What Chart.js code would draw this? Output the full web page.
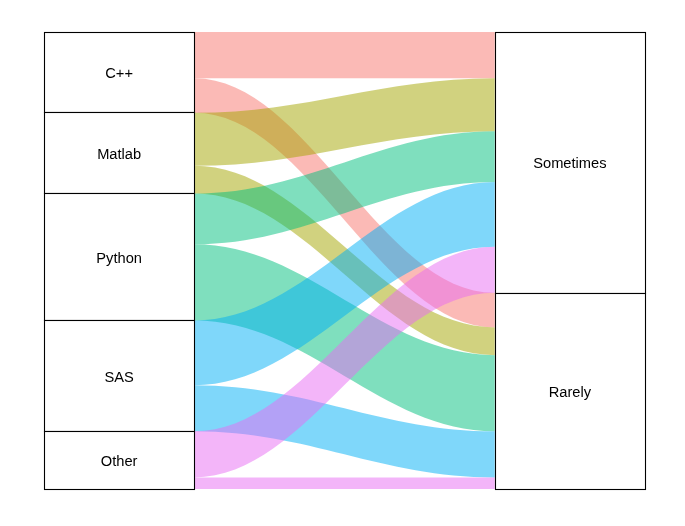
<!DOCTYPE html>
<html>
<head>
<meta charset="utf-8">
<script src="https://cdn.jsdelivr.net/npm/chart.js@4.4.1/dist/chart.umd.min.js"></script>
<style>
html,body{margin:0;padding:0;background:#fff;}
#wrap{width:685px;height:526px;position:relative;}
</style>
</head>
<body>
<div id="wrap"><canvas id="c"></canvas></div>
<script>
// ---- data ----
const languages = ['C++', 'Matlab', 'Python', 'SAS', 'Other'];
const frequencies = ['Sometimes', 'Rarely'];
const sometimesCounts = [20, 23, 22, 28, 20];
const rarelyCounts = [15, 12, 33, 20, 5];
const languageColors = ['#F8766D', '#A3A500', '#00BF7D', '#00B0F6', '#E76BF3'];

const countsByFreq = [sometimesCounts, rarelyCounts];
const total = sometimesCounts.reduce((a, b) => a + b, 0) + rarelyCounts.reduce((a, b) => a + b, 0);
const axisPos = [1, 2];
const stratumWidth = 1 / 3;

function hexToRgba(hex, a) {
  const n = parseInt(hex.slice(1), 16);
  return `rgba(${(n >> 16) & 255},${(n >> 8) & 255},${n & 255},${a})`;
}

// build flow lodes
function buildFlows() {
  const flows = [];
  let cum = 0;
  const leftStart = {};
  languages.forEach((lang, i) => {
    frequencies.forEach((f, j) => {
      leftStart[i + '_' + j] = cum;
      cum += countsByFreq[j][i];
    });
  });
  cum = 0;
  const rightStart = {};
  frequencies.forEach((f, j) => {
    languages.forEach((lang, i) => {
      rightStart[i + '_' + j] = cum;
      cum += countsByFreq[j][i];
    });
  });
  languages.forEach((lang, i) => {
    frequencies.forEach((f, j) => {
      const v = countsByFreq[j][i];
      flows.push({ lang: i, freq: j, value: v, l0: leftStart[i + '_' + j], r0: rightStart[i + '_' + j] });
    });
  });
  return flows;
}
const flows = buildFlows();

function strata() {
  const out = [];
  let cum = 0;
  languages.forEach((lang, i) => {
    const v = sometimesCounts[i] + rarelyCounts[i];
    out.push({ x: axisPos[0], y0: cum, y1: cum + v, label: lang });
    cum += v;
  });
  cum = 0;
  frequencies.forEach((f, j) => {
    const v = countsByFreq[j].reduce((a, b) => a + b, 0);
    out.push({ x: axisPos[1], y0: cum, y1: cum + v, label: f });
    cum += v;
  });
  return out;
}

const alluvialPlugin = {
  id: 'alluvial',
  afterDatasetsDraw(chart) {
    const ctx = chart.ctx;
    const xs = chart.scales.x, ys = chart.scales.y;
    const xL = xs.getPixelForValue(axisPos[0] + stratumWidth / 2);
    const xR = xs.getPixelForValue(axisPos[1] - stratumWidth / 2);
    const w = xR - xL;
    const k = 0.38;
    ctx.save();
    flows.forEach(fl => {
      const yl0 = ys.getPixelForValue(fl.l0), yl1 = ys.getPixelForValue(fl.l0 + fl.value);
      const yr0 = ys.getPixelForValue(fl.r0), yr1 = ys.getPixelForValue(fl.r0 + fl.value);
      ctx.beginPath();
      ctx.moveTo(xL, yl0);
      ctx.bezierCurveTo(xL + k * w, yl0, xR - k * w, yr0, xR, yr0);
      ctx.lineTo(xR, yr1);
      ctx.bezierCurveTo(xR - k * w, yr1, xL + k * w, yl1, xL, yl1);
      ctx.closePath();
      ctx.fillStyle = hexToRgba(languageColors[fl.lang], 0.5);
      ctx.fill();
    });
    // strata
    strata().forEach(s => {
      const x0 = Math.round(xs.getPixelForValue(s.x - stratumWidth / 2)) + 0.5;
      const x1 = Math.round(xs.getPixelForValue(s.x + stratumWidth / 2)) + 0.5;
      const y0 = Math.round(ys.getPixelForValue(s.y0) - 0.3) + 0.5;
      const y1 = Math.round(ys.getPixelForValue(s.y1) - 0.3) + 0.5;
      ctx.fillStyle = '#ffffff';
      ctx.fillRect(x0, y0, x1 - x0, y1 - y0);
      ctx.strokeStyle = '#000000';
      ctx.lineWidth = 1.1;
      ctx.strokeRect(x0, y0, x1 - x0, y1 - y0);
    });
    strata().forEach(s => {
      const cx = xs.getPixelForValue(s.x);
      const cy = ys.getPixelForValue((s.y0 + s.y1) / 2);
      ctx.fillStyle = '#000000';
      ctx.font = '14.67px "Liberation Sans", Arial, sans-serif';
      ctx.textAlign = 'center';
      ctx.textBaseline = 'alphabetic';
      ctx.fillText(s.label, cx, cy + 5.6);
    });
    ctx.restore();
  }
};

new Chart(document.getElementById('c'), {
  type: 'scatter',
  data: { datasets: [{ data: [] }] },
  options: {
    responsive: true,
    maintainAspectRatio: false,
    animation: false,
    layout: { padding: { left: 44, right: 40, top: 32, bottom: 37 } },
    plugins: { legend: { display: false }, tooltip: { enabled: false } },
    scales: {
      x: { type: 'linear', min: 5 / 6, max: 13 / 6, display: false },
      y: { type: 'linear', min: 0, max: total, reverse: true, display: false }
    }
  },
  plugins: [alluvialPlugin]
});
</script>
</body>
</html>
